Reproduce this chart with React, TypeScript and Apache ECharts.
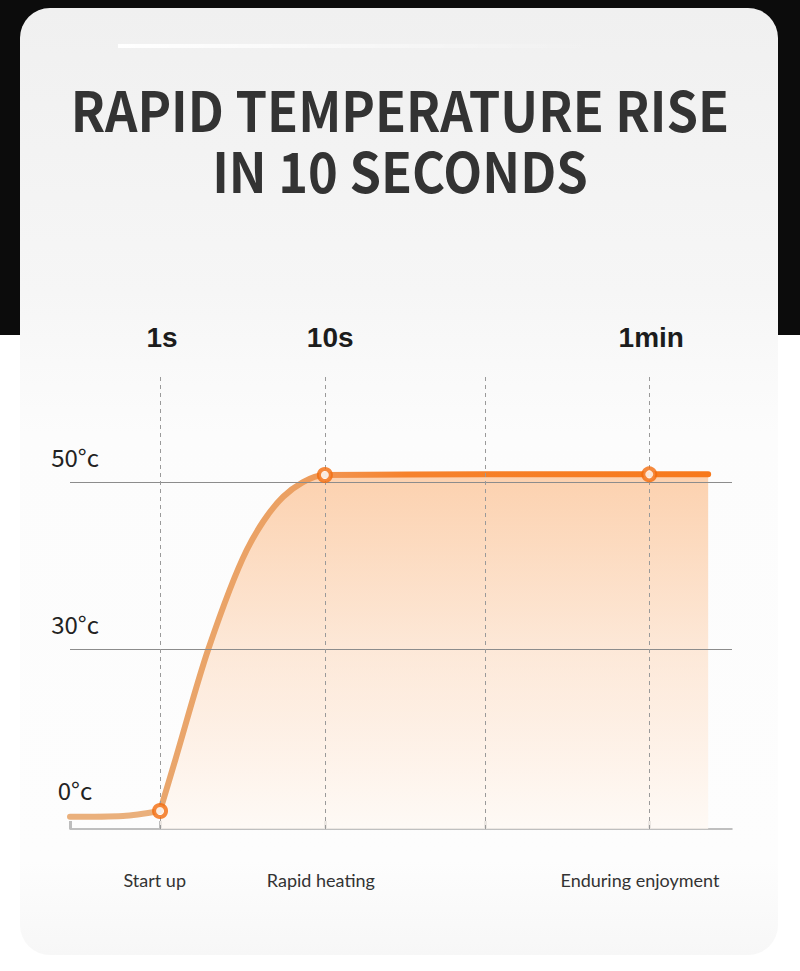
import React, { useEffect, useRef } from "react";
import * as echarts from "echarts";

// x positions on a 0..100 timeline (stage markers), y in "level" units where 0=0°c, 1=30°c, 2=50°c
const stageTicks = [0, 13.6, 38.5, 62.7, 87.5];
const guideLines = [13.6, 38.5, 62.7, 87.5];
const topLabelPos = [13.9, 39.3, 87.8];
const topLabels = ["1s", "10s", "1min"];
const bottomLabelPos = [12.8, 37.9, 86.1];
const bottomLabels = ["Start up", "Rapid heating", "Enduring enjoyment"];
const yLevelPos = [0, 1, 2];
const yLevelLabels = ["0°c", "30°c", "50°c"];
const gridLevels = [1, 2];

const idleX = [0, 8, 13.6];
const idleY = [-0.005, 0.0, 0.03];
const heatX = [13.6, 15.9, 20.9, 26.7, 32.2, 38.5, 62.7, 87.5, 96.4];
const heatY = [0.03, 0.335, 1.0, 1.593, 1.912, 2.042, 2.046, 2.046, 2.046];
const markerX = [13.6, 38.5, 87.5];
const markerY = [0.03, 2.042, 2.046];

const pick = (vals: number[], labels: string[], v: number) => {
  const i = vals.findIndex((p) => Math.abs(p - v) < 0.001);
  return i >= 0 ? labels[i] : "";
};

export default function App() {
  const ref = useRef<HTMLDivElement>(null);
  useEffect(() => {
    document.body.style.margin = "0";
    const chart = echarts.init(ref.current!, undefined, { renderer: "svg" });
    const idle = idleX.map((x, i) => [x, idleY[i]]);
    const heat = heatX.map((x, i) => [x, heatY[i]]);
    const markers = markerX.map((x, i) => [x, markerY[i]]);
    const titleStyle = {
      x: 0,
      y: 0,
      align: "center",
      verticalAlign: "middle",
      fontSize: 55,
      fontWeight: "bold",
      fontFamily: "Noto Sans CJK SC",
      fill: "#333333",
    };
    chart.setOption({
      animation: false,
      backgroundColor: "#ffffff",
      graphic: [
        { type: "rect", z: -20, shape: { x: 0, y: 0, width: 800, height: 335 }, style: { fill: "#0c0c0c" } },
        {
          type: "rect",
          z: -19,
          shape: { x: 20, y: 8, width: 758, height: 947, r: 30 },
          style: {
            fill: new echarts.graphic.LinearGradient(0, 0, 0, 1, [
              { offset: 0, color: "#f0f0f0" },
              { offset: 0.3, color: "#f6f6f6" },
              { offset: 0.45, color: "#fcfcfc" },
              { offset: 0.9, color: "#fdfdfd" },
              { offset: 1, color: "#f7f7f7" },
            ]),
          },
        },
        {
          type: "rect",
          z: -18,
          shape: { x: 118, y: 44, width: 480, height: 4 },
          style: {
            fill: new echarts.graphic.LinearGradient(0, 0, 1, 0, [
              { offset: 0, color: "rgba(255,255,255,1)" },
              { offset: 1, color: "rgba(255,255,255,0)" },
            ]),
          },
        },
        {
          type: "text",
          x: 400,
          y: 108,
          scaleX: 0.92,
          style: { ...titleStyle, text: "RAPID TEMPERATURE RISE" },
        },
        {
          type: "text",
          x: 400,
          y: 169,
          scaleX: 0.92,
          style: { ...titleStyle, text: "IN 10 SECONDS" },
        },
      ],
      grid: { left: 70, right: 68, top: 376, bottom: 142 },
      xAxis: [
        {
          type: "value",
          min: 0,
          max: 100,
          position: "bottom",
          axisLine: { show: true, onZero: false, lineStyle: { color: "#ababab", width: 1.5 } },
          axisTick: {
            show: true,
            inside: true,
            length: 8,
            customValues: stageTicks,
            lineStyle: { color: "#bdbdbd", width: 3 },
          },
          axisLabel: {
            customValues: bottomLabelPos,
            formatter: (v: number) => pick(bottomLabelPos, bottomLabels, v),
            margin: 42,
            fontFamily: "Lato",
            fontSize: 18,
            color: "#333333",
          },
          splitLine: { show: false },
        },
        {
          type: "value",
          min: 0,
          max: 100,
          position: "top",
          axisLine: { show: false, onZero: false },
          axisTick: { show: false },
          axisLabel: {
            customValues: topLabelPos,
            formatter: (v: number) => pick(topLabelPos, topLabels, v),
            margin: 25,
            fontFamily: "Liberation Sans",
            fontWeight: "bold",
            fontSize: 28,
            color: "#1c1c1c",
          },
          splitLine: { show: false },
        },
      ],
      yAxis: {
        type: "value",
        min: -0.078,
        max: 2.635,
        axisLine: { show: false },
        axisTick: { show: false },
        splitLine: { show: false },
        axisLabel: {
          customValues: yLevelPos,
          formatter: (v: number) => pick(yLevelPos, yLevelLabels, v),
          align: "center",
          verticalAlign: "bottom",
          padding: [0, 0, 14, 0],
          margin: -5,
          fontFamily: "Noto Sans CJK SC",
          fontSize: 24,
          color: "#222222",
        },
      },
      series: [
        {
          type: "line",
          name: "area",
          z: 1,
          data: heat,
          smooth: 0.3,
          showSymbol: false,
          lineStyle: { width: 0 },
          areaStyle: {
            origin: "start",
            color: new echarts.graphic.LinearGradient(0, 0, 0, 1, [
              { offset: 0, color: "#fcbf8e" },
              { offset: 0.5, color: "#fde0c9" },
              { offset: 1, color: "#fff8f2" },
            ]),
          },
          silent: true,
        },
        {
          type: "line",
          name: "guides",
          z: 2,
          data: [],
          silent: true,
          markLine: {
            silent: true,
            symbol: "none",
            label: { show: false },
            data: [
              ...gridLevels.map((y) => ({ yAxis: y, lineStyle: { color: "#8c8c8c", width: 1, type: "solid" } })),
              ...guideLines.map((x) => ({ xAxis: x, lineStyle: { color: "#9a9a9a", width: 1, type: [4, 4] } })),
            ],
          },
        },
        {
          type: "line",
          name: "idle",
          z: 3,
          data: idle,
          smooth: 0.3,
          showSymbol: false,
          lineStyle: { width: 6, color: "#eab07c", cap: "round" },
          silent: true,
        },
        {
          type: "line",
          name: "heat",
          z: 3,
          data: heat,
          smooth: 0.3,
          showSymbol: false,
          lineStyle: {
            width: 6,
            cap: "round",
            color: new echarts.graphic.LinearGradient(0, 0, 1, 0, [
              { offset: 0, color: "#e9a66c" },
              { offset: 0.25, color: "#eba062" },
              { offset: 0.32, color: "#f2924c" },
              { offset: 0.45, color: "#f6822c" },
              { offset: 1, color: "#f7791c" },
            ]),
          },
          silent: true,
        },
        {
          type: "scatter",
          name: "markers",
          z: 5,
          data: markers,
          symbol: "circle",
          symbolSize: 12,
          itemStyle: { color: "#ffffff", borderColor: "#f26b0c", borderWidth: 4 },
          silent: true,
        },
      ],
    });
    return () => chart.dispose();
  }, []);
  return <div ref={ref} style={{ position: "fixed", left: 0, top: 0, width: 800, height: 971 }} />;
}
